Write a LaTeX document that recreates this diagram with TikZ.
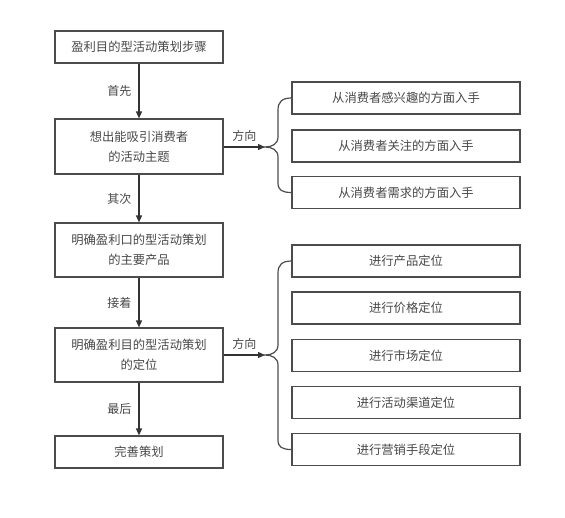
\documentclass[tikz,border=0pt]{standalone}
\usepackage{fontspec}
\newfontfamily\cjk{Noto Sans CJK SC}
\usetikzlibrary{arrows.meta}
\begin{document}
\begin{tikzpicture}[x=1pt,y=-1pt,
  box/.style={draw=black!70,line width=1.2pt,minimum width=168pt,inner sep=0pt,align=center,text=black!72,font=\cjk\fontsize{12.3}{20}\selectfont},
  rbox/.style={draw=black!70,line width=1.2pt,minimum width=228pt,minimum height=32pt,inner sep=0pt,align=center,text=black!72,font=\cjk\fontsize{12.3}{20}\selectfont},
  lab/.style={text=black!72,font=\cjk\fontsize{12}{14}\selectfont,inner sep=1pt},
  arr/.style={draw=black!80,line width=1.2pt,-{Triangle[length=7pt,width=6pt]}},
  brace/.style={draw=black!70,line width=1.2pt}]
\useasboundingbox (0,0) rectangle (565,517);
% left column
\node[box,minimum height=32pt] (b1) at (139,47) {盈利目的型活动策划步骤};
\node[box,minimum height=55pt] (b2) at (139,146.5) {想出能吸引消费者\\的活动主题};
\node[box,minimum height=54pt] (b3) at (139,250) {明确盈利口的型活动策划\\的主要产品};
\node[box,minimum height=54pt] (b4) at (139,355) {明确盈利目的型活动策划\\的定位};
\node[box,minimum height=32pt] (b5) at (139,452) {完善策划};
\draw[arr] (b1) -- (b2) node[midway,left=6pt,lab] (l1) {首先};
\draw[arr] (b2) -- (b3) node[midway,left=6pt,lab] (l2) {其次};
\draw[arr] (b3) -- (b4) node[midway,left=6pt,lab] (l3) {接着};
\draw[arr] (b4) -- (b5) node[midway,left=6pt,lab] (l4) {最后};
% right top group
\node[rbox] (a1) at (406,98) {从消费者感兴趣的方面入手};
\node[rbox] (a2) at (406,146) {从消费者关注的方面入手};
\node[rbox] (a3) at (406,192.5) {从消费者需求的方面入手};
\coordinate (t1) at (265,147);
\draw[arr] (b2.east |- t1) -- (t1) node[midway,above=4pt,lab] (d1) {方向};
\draw[brace] (a1.west) .. controls (282,98) and (278,102) .. (278,110) -- (278,137)
  .. controls (278,144) and (272,147) .. (t1)
  .. controls (272,147) and (278,150) .. (278,157) -- (278,183)
  .. controls (278,190) and (282,192.5) .. (a3.west);
% right bottom group
\node[rbox] (c1) at (406,261) {进行产品定位};
\node[rbox] (c2) at (406,308) {进行价格定位};
\node[rbox] (c3) at (406,355.5) {进行市场定位};
\node[rbox] (c4) at (406,402.5) {进行活动渠道定位};
\node[rbox] (c5) at (406,449.5) {进行营销手段定位};
\coordinate (t2) at (265,355);
\draw[arr] (b4.east |- t2) -- (t2) node[midway,above=4pt,lab] (d2) {方向};
\draw[brace] (c1.west) .. controls (282,261) and (278,265) .. (278,273) -- (278,345)
  .. controls (278,352) and (272,355) .. (t2)
  .. controls (272,355) and (278,358) .. (278,365) -- (278,440)
  .. controls (278,447) and (282,449.5) .. (c5.west);
\end{tikzpicture}
\end{document}
